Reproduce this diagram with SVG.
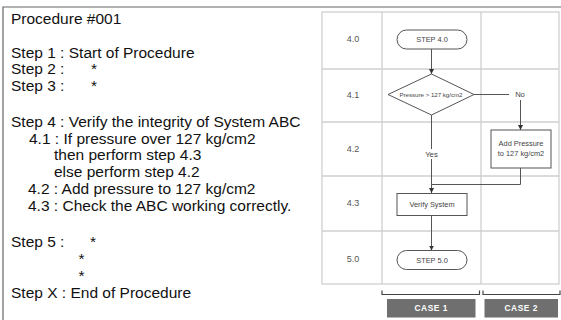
<svg xmlns="http://www.w3.org/2000/svg" width="561" height="320" viewBox="0 0 561 320">
<style>
.t{font-family:"Liberation Sans",Arial,sans-serif;font-size:15.5px;fill:#111}
.lbl{font-family:"Liberation Sans",Arial,sans-serif;font-size:9px;fill:#555;text-anchor:middle}
.ft{font-family:"Liberation Sans",Arial,sans-serif;font-size:7.4px;fill:#444;text-anchor:middle}
.grid{stroke:#cfcfcf;stroke-width:1.3;fill:none}
.shape{fill:#fff;stroke:#555;stroke-width:1}
.conn{stroke:#555;stroke-width:1;fill:none}
.case{fill:#6f6f6f}
.ct{font-family:"Liberation Sans",Arial,sans-serif;font-size:8.4px;font-weight:bold;fill:#fff;text-anchor:middle;letter-spacing:0.5px}
</style>
<defs>
<marker id="ah" markerWidth="6" markerHeight="6" refX="5" refY="3" orient="auto" markerUnits="userSpaceOnUse">
<path d="M0,0.5 L5,3 L0,5.5 Z" fill="#333"/>
</marker>
</defs>
<rect width="561" height="320" fill="#fff"/>
<g id="frame">
<path d="M3,320 V7 H561" stroke="#666" stroke-width="1.2" fill="none"/>
</g>
<g id="procedure-text">
<text class="t" x="11" y="23.5">Procedure #001</text>
<text class="t" x="11" y="57.5">Step 1 : Start of Procedure</text>
<text class="t" x="11" y="74">Step 2 :</text>
<text class="t" x="91" y="74">*</text>
<text class="t" x="11" y="90.5">Step 3 :</text>
<text class="t" x="91" y="90.5">*</text>
<text class="t" x="11" y="127">Step 4 : Verify the integrity of System ABC</text>
<text class="t" x="29" y="143.5">4.1 : If pressure over 127 kg/cm2</text>
<text class="t" x="54" y="160">then perform step 4.3</text>
<text class="t" x="54" y="177">else perform step 4.2</text>
<text class="t" x="28" y="194">4.2 : Add pressure to 127 kg/cm2</text>
<text class="t" x="28" y="211">4.3 : Check the ABC working correctly.</text>
<text class="t" x="11" y="247">Step 5 :</text>
<text class="t" x="90" y="247">*</text>
<text class="t" x="78.5" y="264">*</text>
<text class="t" x="78.5" y="281">*</text>
<text class="t" x="11" y="298">Step X : End of Procedure</text>
</g>
<g id="grid">
<rect class="grid" x="322" y="12" width="237" height="272"/>
<path class="grid" d="M382,12 V284 M481,12 V284 M322,69 H559 M322,122 H559 M322,176 H559 M322,231 H559"/>
<text class="lbl" x="353" y="41.5">4.0</text>
<text class="lbl" x="353" y="97.5">4.1</text>
<text class="lbl" x="353" y="151.5">4.2</text>
<text class="lbl" x="353" y="205.5">4.3</text>
<text class="lbl" x="353" y="261.5">5.0</text>
</g>
<g id="connectors">
<path class="conn" d="M431.5,49 V74" marker-end="url(#ah)"/>
<path class="conn" d="M474,94.5 H509"/>
<path class="conn" d="M520.5,100 V130" marker-end="url(#ah)"/>
<path class="conn" d="M431.5,115 V193" marker-end="url(#ah)"/>
<path class="conn" d="M520.5,168 V184.5 H431.5"/>
<path class="conn" d="M431.5,216 V250.5" marker-end="url(#ah)"/>
<rect x="422" y="149" width="19" height="10" fill="#fff"/>
<text class="ft" x="431.5" y="157" style="font-size:7.8px">Yes</text>
<text class="ft" x="520" y="97" style="font-size:7.6px">No</text>
</g>
<g id="step40">
<rect class="shape" x="397" y="30" width="70" height="19" rx="9.5"/>
<text class="ft" x="432" y="42.3">STEP 4.0</text>
</g>
<g id="decision">
<polygon class="shape" points="431.5,74 474,94.5 431.5,115 388,94.5"/>
<text class="ft" x="431" y="96.6" style="font-size:6.2px" textLength="63" lengthAdjust="spacingAndGlyphs">Pressure &gt; 127 kg/cm2</text>
</g>
<g id="add-pressure">
<rect class="shape" x="491" y="130" width="60" height="38"/>
<text class="ft" x="521" y="146.3">Add Pressure</text>
<text class="ft" x="521" y="155.8">to 127 kg/cm2</text>
</g>
<g id="verify">
<rect class="shape" x="397" y="193.5" width="70" height="22"/>
<text class="ft" x="432" y="207.3">Verify System</text>
</g>
<g id="step50">
<rect class="shape" x="397" y="250.5" width="70" height="19" rx="9.5"/>
<text class="ft" x="432" y="262.8">STEP 5.0</text>
</g>
<g id="case1">
<path d="M382,290.5 V294.5 H479.5 V290.5" stroke="#444" stroke-width="1.2" fill="none"/>
<rect class="case" x="387" y="299" width="88.5" height="18.5"/>
<text class="ct" x="431.2" y="311.3">CASE 1</text>
</g>
<g id="case2">
<path d="M483,290.5 V294.5 H560 V290.5" stroke="#444" stroke-width="1.2" fill="none"/>
<rect class="case" x="484.5" y="299" width="73.5" height="18.5"/>
<text class="ct" x="521.2" y="311.3">CASE 2</text>
</g>
</svg>
